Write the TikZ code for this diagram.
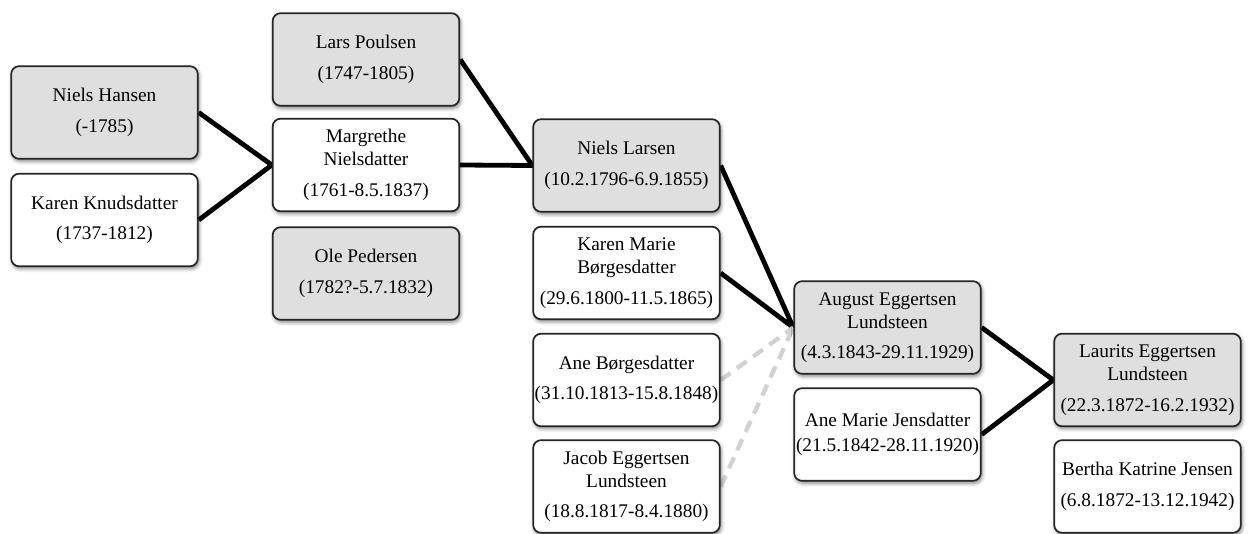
\documentclass[tikz,border=0pt]{standalone}
\usepackage{fontspec}
\setmainfont{Liberation Serif}
\usetikzlibrary{shadows.blur,backgrounds}
\tikzset{
  person/.style={draw=black!85, line width=1.3pt, rounded corners=6pt,
    minimum width=140pt, minimum height=69.5pt, align=center, inner sep=0pt,
    font=\fontsize{14.5}{17.3}\selectfont,
    blur shadow={shadow xshift=0.9pt, shadow yshift=-1.8pt, shadow blur radius=2.8pt, shadow opacity=50}},
  male/.style={person, fill=gray!25},
  female/.style={person, fill=white},
  link/.style={line width=3.6pt, black},
  dlink/.style={line width=3.2pt, black!18, dash pattern=on 9pt off 6pt}
}
\begin{document}
\begin{tikzpicture}[x=0.75pt,y=-0.75pt]
\useasboundingbox (0,0) rectangle (1248,534);
% column 1
\node[male]   (NH) at (104.5,112.5) {Niels Hansen\\[5.5pt](-1785)};
\node[female] (KK) at (104.5,220) {Karen Knudsdatter\\[5.5pt](1737-1812)};
% column 2
\node[male]   (LP) at (366,59.5) {Lars Poulsen\\[5.5pt](1747-1805)};
\node[female] (MN) at (366,165) {Margrethe\\Nielsdatter\\[5.5pt](1761-8.5.1837)};
\node[male]   (OP) at (366,273.5) {Ole Pedersen\\[5.5pt](1782?-5.7.1832)};
% column 3
\node[male]   (NL) at (626.5,165.5) {Niels Larsen\\[5.5pt](10.2.1796-6.9.1855)};
\node[female] (KM) at (626.5,273) {Karen Marie\\Børgesdatter\\[5.5pt](29.6.1800-11.5.1865)};
\node[female] (AB) at (626.5,380) {Ane Børgesdatter\\[5.5pt](31.10.1813-15.8.1848)};
\node[female] (JE) at (626.5,486.5) {Jacob Eggertsen\\Lundsteen\\[5.5pt](18.8.1817-8.4.1880)};
% column 4
\node[male]   (AE) at (887.5,327.5) {August Eggertsen\\Lundsteen\\[5.5pt](4.3.1843-29.11.1929)};
\node[female] (AM) at (887.5,434.5) {Ane Marie Jensdatter\\[1pt](21.5.1842-28.11.1920)};
% column 5
\node[male]   (LE) at (1147.5,380) {Laurits Eggertsen\\Lundsteen\\[5.5pt](22.3.1872-16.2.1932)};
\node[female] (BK) at (1147.5,486.5) {Bertha Katrine Jensen\\[5.5pt](6.8.1872-13.12.1942)};
\begin{pgfonlayer}{background}
\draw[link] (NH.east) -- (MN.west) -- (KK.east);
\draw[link] (LP.east) -- (NL.west) -- (MN.east);
\draw[link] (NL.east) -- (AE.west) -- (KM.east);
\draw[dlink] (AB.east) -- (AE.west);
\draw[dlink] (JE.east) -- (AE.west);
\draw[link] (AE.east) -- (LE.west) -- (AM.east);
\end{pgfonlayer}
\end{tikzpicture}
\end{document}
